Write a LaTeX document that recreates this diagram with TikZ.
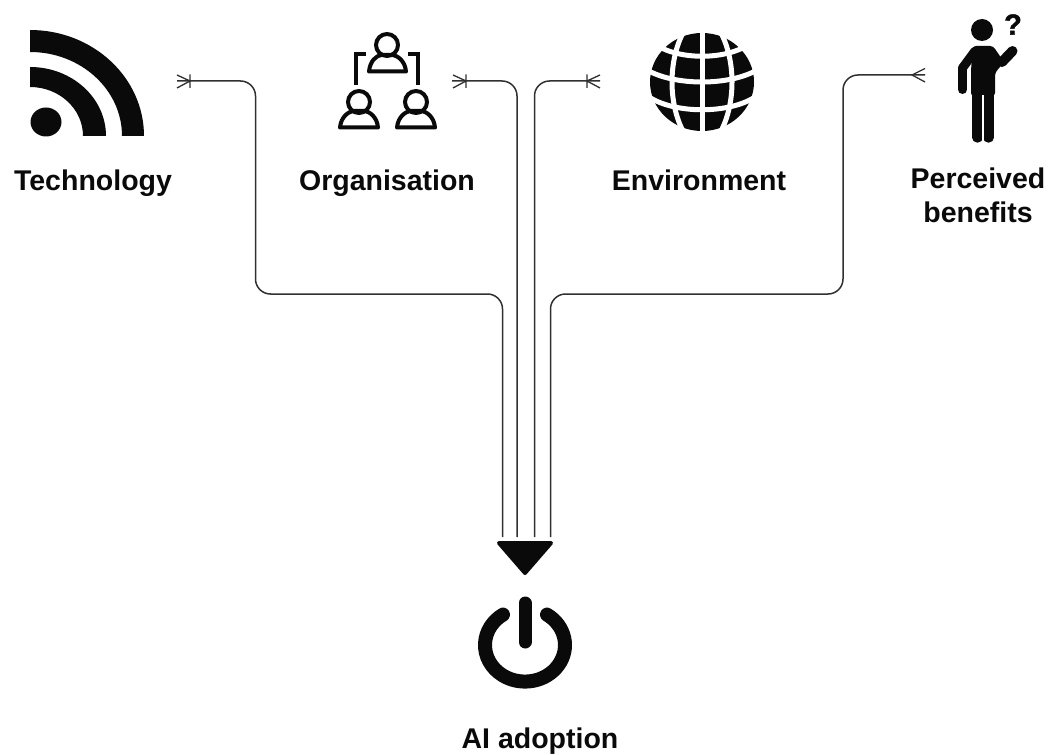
\documentclass[tikz,border=0pt]{standalone}
\usepackage{fontspec}
\setmainfont{Liberation Sans}
\newfontfamily\qfont[FakeBold=1.5]{Liberation Sans Bold}
\definecolor{ink}{HTML}{0A0A0A}
\definecolor{wire}{HTML}{303030}
\tikzset{
  lbl/.style={font=\fontsize{28.5}{34}\selectfont\bfseries,text=ink,inner sep=0pt,anchor=base,align=center},
  conn/.style={draw=wire,line width=1.5pt,rounded corners=15pt},
  tick/.style={draw=wire,line width=1.3pt},
  outline/.style={draw=ink,line width=4pt,fill=none},
  gap/.style={draw=white,line width=5pt,fill=none},
  limb/.style={draw=ink,line cap=round,line join=round},
}
\begin{document}
\begin{tikzpicture}[x=1pt,y=-1pt]
\useasboundingbox (0,0) rectangle (1048,754);
% ---- labels
\node[lbl] (techlabel) at (93,190) {Technology};
\node[lbl] (orglabel) at (387,190) {Organisation};
\node[lbl] (envlabel) at (699,190) {Environment};
\node[lbl] (benlabel) at (978,188) {Perceived};
\node[lbl] (benlabel2) at (978,222) {benefits};
\node[lbl] (ailabel) at (540,748) {AI adoption};
% ---- connector ends
\coordinate (techend) at (177,81);
\coordinate (orgend) at (452,81);
\coordinate (envend) at (600,81);
\coordinate (benend) at (925,75);
\coordinate (hA) at (502.5,537);
\coordinate (hB) at (517,537);
\coordinate (hC) at (534.5,537);
\coordinate (hD) at (550.5,537);
\coordinate (t1) at (255.5,81);
\coordinate (t2) at (255.5,294);
\coordinate (t3) at (502.5,294);
\coordinate (o1) at (517,81);
\coordinate (e1) at (534.5,81);
\coordinate (b1) at (843,75);
\coordinate (b2) at (843,294);
\coordinate (b3) at (550.5,294);
% ---- connectors
\draw[conn] (techend) -- (t1) -- (t2) -- (t3) -- (hA);
\draw[conn] (orgend) -- (o1) -- (hB);
\draw[conn] (envend) -- (e1) -- (hC);
\draw[conn] (benend) -- (b1) -- (b2) -- (b3) -- (hD);
% ---- crow's feet
\draw[tick] (190,74.5) -- (190,88) (177,75) -- (190,81) -- (177,88);
\draw[tick] (466,74.5) -- (466,88) (453,75) -- (466,81) -- (453,88);
\draw[tick] (587,74.5) -- (587,88) (600,75) -- (587,81) -- (600,88);
\draw[tick] (925,68.5) -- (912,75) -- (925,82);
% ---- arrow head
\draw[fill=ink,draw=ink,line width=4pt,line join=round] (499,543) -- (551,543) -- (525,573) -- cycle;
% ---- RSS icon
\fill[ink] (30,30) arc[start angle=-90,end angle=0,x radius=114,y radius=106] -- (122,136)
  arc[start angle=0,end angle=-90,x radius=92,y radius=84] -- cycle;
\fill[ink] (30,67) arc[start angle=-90,end angle=0,x radius=76,y radius=69] -- (83,136)
  arc[start angle=0,end angle=-90,x radius=53,y radius=49] -- cycle;
\fill[ink] (46,122) ellipse[x radius=15.5,y radius=14.5];
% ---- organisation icon
\draw[outline] (387,45) circle[radius=11];
\draw[outline,line join=round] (369,71.5) -- (406,71.5) .. controls (405,61) and (398,56) .. (393,55) -- (381,55) .. controls (376,56) and (370,61) .. (369,71.5) -- cycle;
\draw[outline] (359,102) circle[radius=11];
\draw[outline,line join=round] (340,127.5) -- (378,127.5) .. controls (377,117) and (370,112) .. (365,111) -- (353,111) .. controls (348,112) and (341,117) .. (340,127.5) -- cycle;
\draw[outline] (416,102) circle[radius=11];
\draw[outline,line join=round] (397,127.5) -- (435,127.5) .. controls (434,117) and (427,112) .. (422,111) -- (410,111) .. controls (405,112) and (398,117) .. (397,127.5) -- cycle;
\draw[outline] (366,54.5) -- (356,54.5) -- (356,85);
\draw[outline] (408,54.5) -- (418,54.5) -- (418,85);
% ---- globe icon
\fill[ink] (702,82) ellipse[x radius=52,y radius=49];
\draw[gap] (702,28) -- (702,135);
\draw[gap] (684,31) .. controls (668,60) and (668,104) .. (684,133);
\draw[gap] (720,31) .. controls (736,60) and (736,104) .. (720,133);
\draw[gap] (656,45) .. controls (680,60) and (724,60) .. (748,45);
\draw[gap] (647,70) .. controls (675,86) and (729,86) .. (757,70);
\draw[gap] (649,97) .. controls (675,114) and (729,114) .. (755,97);
% ---- person icon
\fill[ink] (982,30) circle[radius=11];
\fill[ink,rounded corners=3pt] (973,46) -- (993,46) -- (1004,62) -- (995,73) -- (995,96) -- (971,96) -- (971,70) -- cycle;
\draw[limb,line width=9pt] (962.5,68) -- (962.5,89.5);
\draw[limb,line width=9pt] (975,51) -- (962.5,68);
\draw[limb,line width=10pt] (1002,62) -- (1012.5,51);
\draw[limb,line width=10.5pt] (977.5,92) -- (977.5,137.5);
\draw[limb,line width=10.5pt] (988.5,92) -- (988.5,137.5);
\draw[draw=white,line width=1.5pt] (983,95) -- (983,144);
\node[font=\fontsize{29}{29}\selectfont\qfont,text=ink,inner sep=0pt] (qmark) at (1013,24.5) {?};
% ---- power icon
\draw[draw=ink,line width=14pt,line cap=round] (547,614.6) arc[start angle=-56.6,end angle=236.6,x radius=40,y radius=36.5];
\draw[draw=ink,line width=13pt,line cap=round] (525,603) -- (525,642);
\end{tikzpicture}
\end{document}
